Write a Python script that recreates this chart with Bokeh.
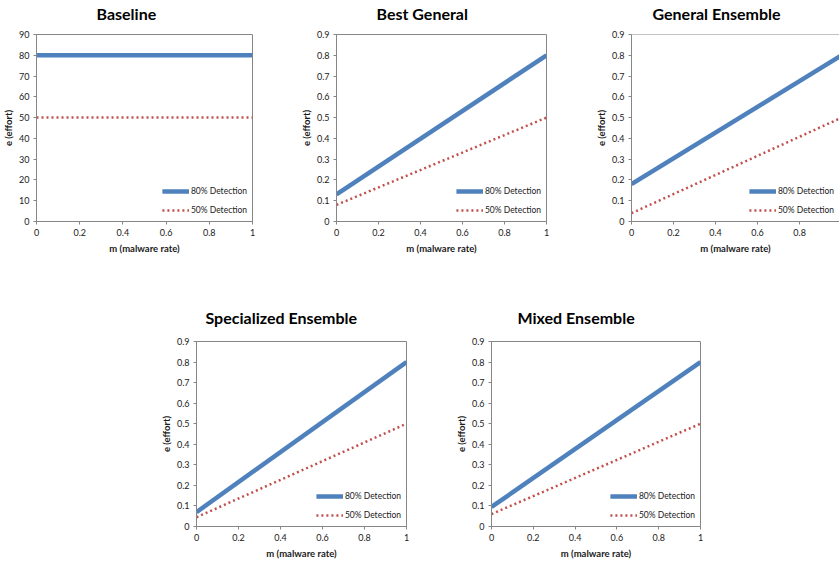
from bokeh.plotting import figure
from bokeh.models import (FixedTicker, CustomJSTickFormatter, Legend, LegendItem,
                          Span, Spacer, Range1d, LinearAxis)
from bokeh.layouts import row, column
from bokeh.embed import file_html
from bokeh.resources import INLINE

# ---------------- data ----------------
m_rate = [0, 1]

baseline_80 = [80, 80]
baseline_50 = [50, 50]
best_general_80 = [0.13, 0.80]
best_general_50 = [0.08, 0.50]
general_ens_80 = [0.18, 0.80]
general_ens_50 = [0.04, 0.50]
special_ens_80 = [0.07, 0.80]
special_ens_50 = [0.045, 0.50]
mixed_ens_80 = [0.095, 0.80]
mixed_ens_50 = [0.06, 0.50]

x_ticks = [0, 0.2, 0.4, 0.6, 0.8, 1]
y_ticks_frac = [0, 0.1, 0.2, 0.3, 0.4, 0.5, 0.6, 0.7, 0.8, 0.9]
y_ticks_base = [0, 10, 20, 30, 40, 50, 60, 70, 80, 90]

series_labels = ["80% Detection", "50% Detection"]

# ---------------- style ----------------
FONT = "Lato"
BLUE = "#4F81BD"
RED = "#C0504D"
GRAY = "#868686"
TXT = "#1a1a1a"


def make_panel(title, y80, y50, y_max, y_ticks, width, height, bl, br, bt, bb,
               title_offset, gap_px, x_end=1.0, outline=True):
    p = figure(width=width, height=height, output_backend="svg", toolbar_location=None,
               x_range=Range1d(0, x_end), y_range=Range1d(0, y_max),
               min_border_left=bl, min_border_right=br,
               min_border_top=bt, min_border_bottom=bb,
               background_fill_color="white", border_fill_color="white")

    # title
    p.title.text = title
    p.title.text_font = FONT
    p.title.text_font_style = "bold"
    p.title.text_font_size = "16px"
    p.title.text_color = "#000000"
    p.title.align = "left"
    p.title.offset = title_offset
    p.title.standoff = 0

    xax = p.below[0]
    yax = p.left[0]

    # empty spacer axis between title and frame (keeps the title higher up)
    gap = LinearAxis(ticker=FixedTicker(ticks=[]), axis_line_color=None,
                     major_tick_out=0, major_tick_in=0, minor_tick_out=0,
                     minor_tick_in=0, major_label_standoff=0,
                     major_tick_line_color=None, minor_tick_line_color=None,
                     axis_label=" ", axis_label_standoff=0,
                     axis_label_text_font=FONT, axis_label_text_font_size=gap_px)
    p.add_layout(gap, "above")

    p.grid.visible = False
    p.outline_line_color = GRAY if outline else None
    if not outline:
        p.add_layout(Span(location=y_max, dimension="width", line_color=GRAY, line_width=1))

    fmt = CustomJSTickFormatter(code="return String(Math.round(tick * 100) / 100);")
    xax.ticker = FixedTicker(ticks=x_ticks)
    yax.ticker = FixedTicker(ticks=y_ticks)
    xax.formatter = fmt
    yax.formatter = fmt
    xax.axis_label = "m (malware rate)"
    yax.axis_label = "e (effort)"
    for ax in (xax, yax):
        ax.axis_line_color = GRAY
        ax.major_tick_line_color = GRAY
        ax.minor_tick_line_color = None
        ax.major_tick_in = 0
        ax.major_tick_out = 3
        ax.major_label_text_font = FONT
        ax.major_label_text_font_size = "9px"
        ax.major_label_text_color = TXT
        ax.axis_label_text_font = FONT
        ax.axis_label_text_font_style = "bold"
        ax.axis_label_text_font_size = "9.5px"
        ax.axis_label_text_color = TXT
    xax.major_label_standoff = 4
    xax.axis_label_standoff = 4
    yax.major_label_standoff = 4
    yax.axis_label_standoff = 2

    r80 = p.line(m_rate, y80, line_color=BLUE, line_width=4.5)
    r50 = p.line(m_rate, y50, line_color=RED, line_width=2.5, line_dash="2 3")

    legend = Legend(items=[LegendItem(label=series_labels[0], renderers=[r80]),
                           LegendItem(label=series_labels[1], renderers=[r50])],
                    location="bottom_right", border_line_color=None,
                    background_fill_alpha=0, label_text_font=FONT,
                    label_text_font_size="8.5px", label_text_color=TXT,
                    glyph_width=27, glyph_height=12, label_height=12,
                    label_standoff=2, spacing=7, padding=0, margin=5)
    p.add_layout(legend, "center")
    return p


TOP_H = 280
BOT_H = 281

p1 = make_panel("Baseline", baseline_80, baseline_50, 90, y_ticks_base,
                297, TOP_H, 36, 45, 34, 59, 60, "7.5px")
p2 = make_panel("Best General", best_general_80, best_general_50, 0.9, y_ticks_frac,
                295, TOP_H, 36, 46, 34, 59, 40, "7.5px")
p3 = make_panel("General Ensemble", general_ens_80, general_ens_50, 0.9, y_ticks_frac,
                247, TOP_H, 36, 0, 34, 59, 21, "7.5px", x_end=0.99, outline=False)
p4 = make_panel("Specialized Ensemble", special_ens_80, special_ens_50, 0.9, y_ticks_frac,
                295, BOT_H, 36, 46, 61, 33, 9, "10px")
p5 = make_panel("Mixed Ensemble", mixed_ens_80, mixed_ens_50, 0.9, y_ticks_frac,
                258, BOT_H, 36, 10, 61, 33, 26, "10px")

layout = column(row(p1, p2, p3), row(Spacer(width=157, height=BOT_H), p4, p5))

open("out.html", "w").write(file_html(layout, INLINE))
